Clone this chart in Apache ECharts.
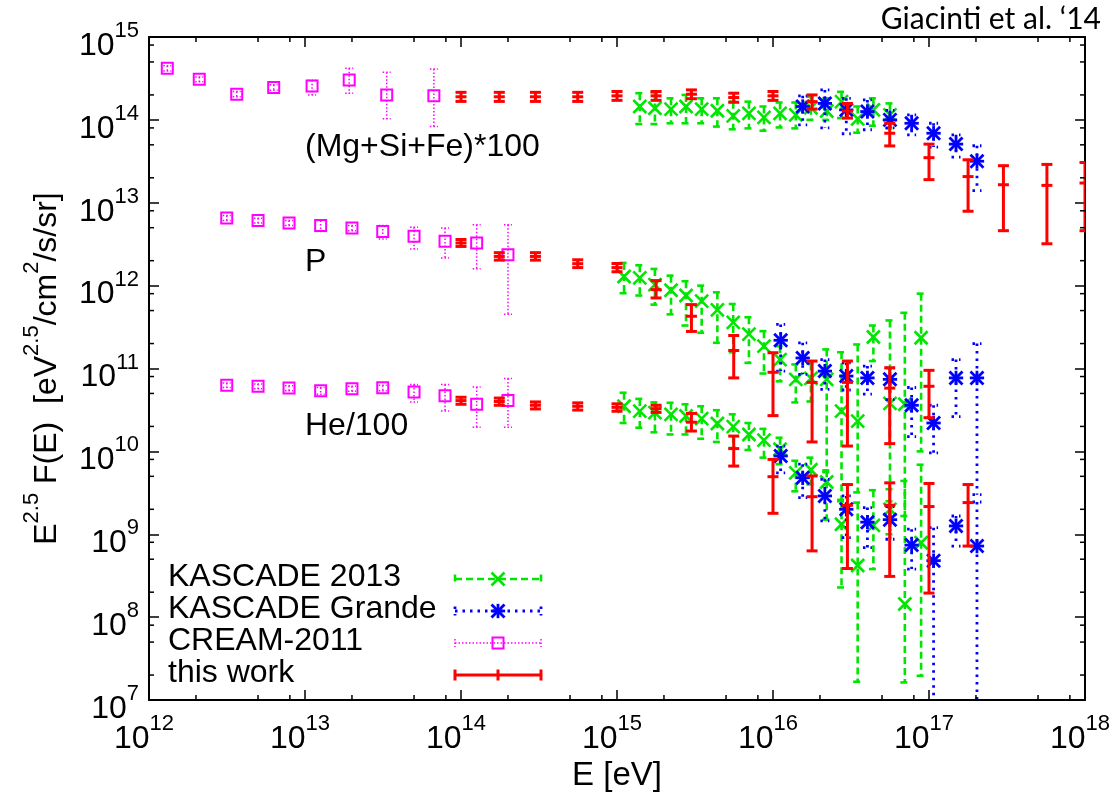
<!DOCTYPE html>
<html>
<head>
<meta charset="utf-8">
<script src="https://cdn.jsdelivr.net/npm/echarts@6.0.0/dist/echarts.min.js"></script>
<style>
html,body{margin:0;padding:0;background:#fff;}
#chart{width:1119px;height:799px;}
</style>
</head>
<body>
<div id="chart"></div>
<script>
// ---------------- DATA ----------------
// CREAM-2011
const E_CREAM_MG = [1.31e12, 2.1e12, 3.65e12, 6.3e12, 1.11e13, 1.92e13, 3.34e13, 6.7e13];
const F_CREAM_MG = [4.2e14, 3.09e14, 2.04e14, 2.45e14, 2.57e14, 3.03e14, 2.0e14, 1.95e14];
const HI_CREAM_MG = [4.5e14, 3.3e14, 2.2e14, 2.65e14, 3.0e14, 4.2e14, 3.76e14, 4.1e14];
const LO_CREAM_MG = [3.9e14, 2.88e14, 1.9e14, 2.28e14, 2.0e14, 2.1e14, 1.03e14, 8.3e13];

const E_CREAM = [3.15e12, 5.0e12, 7.9e12, 1.26e13, 2.0e13, 3.15e13, 5.0e13, 7.9e13, 1.26e14, 2.0e14];
const F_CREAM_P = [6.55e12, 6.1e12, 5.7e12, 5.3e12, 4.96e12, 4.5e12, 3.93e12, 3.42e12, 3.27e12, 2.36e12];
const HI_CREAM_P = [7.0e12, 6.5e12, 6.1e12, 6.1e12, 5.3e12, 5.3e12, 5.05e12, 4.95e12, 5.43e12, 5.43e12];
const LO_CREAM_P = [6.1e12, 5.7e12, 5.3e12, 4.5e12, 4.6e12, 3.66e12, 2.77e12, 2.16e12, 1.6e12, 4.5e11];
const F_CREAM_HE = [6.3e10, 6.1e10, 5.8e10, 5.4e10, 5.7e10, 5.85e10, 5.2e10, 4.7e10, 3.7e10, 4.1e10];
const HI_CREAM_HE = [6.7e10, 6.5e10, 6.2e10, 5.9e10, 6.1e10, 6.3e10, 6.4e10, 6.4e10, 6.0e10, 7.6e10];
const LO_CREAM_HE = [5.9e10, 5.7e10, 5.4e10, 4.9e10, 5.3e10, 5.4e10, 3.93e10, 3.06e10, 1.96e10, 1.96e10];

// this work
const E_WORK = [1.0e14, 1.76e14, 3.0e14, 5.6e14, 1.0e15, 1.78e15, 3.0e15, 5.6e15, 1.0e16, 1.78e16, 3.0e16, 5.6e16, 1.0e17, 1.78e17, 3.0e17, 5.7e17, 1.0e18];
const F_WORK_MG = [1.9e14, 1.9e14, 1.9e14, 1.9e14, 1.95e14, 1.95e14, 2.04e14, 1.86e14, 1.95e14, 1.66e14, 1.28e14, 6.9e13, 3.5e13, 2.07e13, 1.65e13, 1.62e13, 1.73e13];
const HI_WORK_MG = [2.15e14, 2.15e14, 2.15e14, 2.15e14, 2.2e14, 2.2e14, 2.3e14, 2.1e14, 2.2e14, 2.0e14, 1.58e14, 9.1e13, 5.1e13, 3.3e13, 2.8e13, 2.9e13, 3.06e13];
const LO_WORK_MG = [1.67e14, 1.67e14, 1.67e14, 1.67e14, 1.72e14, 1.72e14, 1.8e14, 1.63e14, 1.72e14, 1.35e14, 1.05e14, 4.85e13, 1.9e13, 7.9e12, 4.6e12, 3.2e12, 4.6e12];
const F_WORK_P = [3.27e12, 2.25e12, 2.25e12, 1.84e12, 1.65e12, 8.95e11, 4.27e11, 1.65e11, 9.0e10, 6.8e10, 6.8e10, 5.8e10, 6.1e10];
const HI_WORK_P = [3.6e12, 2.5e12, 2.5e12, 2.05e12, 1.85e12, 1.15e12, 5.9e11, 2.5e11, 1.55e11, 1.23e11, 1.23e11, 1.02e11, 9.5e10];
const LO_WORK_P = [2.97e12, 2.03e12, 2.03e12, 1.65e12, 1.47e12, 7.1e11, 2.8e11, 7.7e10, 2.7e10, 1.3e10, 1.16e10, 1.24e10, 2.55e10];
const F_WORK_HE = [4.1e10, 4.0e10, 3.6e10, 3.5e10, 3.4e10, 3.27e10, 2.25e10, 1.08e10, 4.95e9, 2.84e9, 2.24e9, 2.24e9, 2.16e9, 2.41e9];
const HI_WORK_HE = [4.5e10, 4.4e10, 3.95e10, 3.85e10, 3.75e10, 3.6e10, 2.87e10, 1.53e10, 8.0e9, 5.05e9, 3.98e9, 4.17e9, 4.1e9, 3.98e9];
const LO_WORK_HE = [3.7e10, 3.6e10, 3.25e10, 3.15e10, 3.05e10, 2.95e10, 1.76e10, 6.65e9, 1.79e9, 6.3e8, 3.86e8, 3.1e8, 1.95e8, 7.2e8];

// KASCADE 2013
const E_K13 = [1.11e15, 1.40e15, 1.75e15, 2.22e15, 2.77e15, 3.49e15, 4.40e15, 5.56e15, 7.01e15, 8.75e15, 1.11e16, 1.40e16, 1.75e16, 2.21e16, 2.75e16, 3.49e16, 4.40e16, 5.62e16, 7.0e16, 8.9e16];
const E_K13_MG = [1.40e15, 1.75e15, 2.22e15, 2.77e15, 3.49e15, 4.40e15, 5.56e15, 7.01e15, 8.75e15, 1.11e16, 1.40e16, 1.75e16, 2.21e16, 2.75e16, 3.49e16, 4.40e16, 5.62e16];
const F_K13_MG = [1.45e14, 1.38e14, 1.35e14, 1.45e14, 1.35e14, 1.29e14, 1.12e14, 1.2e14, 1.07e14, 1.2e14, 1.15e14, 1.4e14, 1.28e14, 1.66e14, 1.03e14, 1.32e14, 1.15e14];
const HI_K13_MG = [2.1e14, 2.14e14, 1.82e14, 2.0e14, 1.82e14, 1.82e14, 1.66e14, 1.66e14, 1.45e14, 1.62e14, 1.62e14, 1.9e14, 1.82e14, 2.18e14, 1.45e14, 1.82e14, 1.58e14];
const LO_K13_MG = [8.9e13, 8.9e13, 9.1e13, 9.1e13, 9.1e13, 8.3e13, 7.7e13, 7.9e13, 7.4e13, 8.1e13, 7.9e13, 1.0e14, 1.0e14, 1.05e14, 7.0e13, 8.5e13, 7.9e13];
const F_K13_P = [1.29e12, 1.24e12, 1.03e12, 8.8e11, 7.6e11, 6.5e11, 5.1e11, 3.6e11, 2.6e11, 1.86e11, 1.28e11, 7.4e10, 7.6e10, 7.4e10, 3.06e10, 2.32e10, 2.4e11, 3.8e10, 3.7e10, 2.35e11];
const HI_K13_P = [1.88e12, 1.76e12, 1.59e12, 1.32e12, 1.13e12, 1.0e12, 8.3e11, 6.0e11, 4.15e11, 2.82e11, 1.86e11, 1.12e11, 1.15e11, 1.7e11, 1.57e11, 1.95e11, 3.3e11, 3.8e11, 4.7e11, 8.0e11];
const LO_K13_P = [8.1e11, 7.6e11, 5.9e11, 4.5e11, 3.3e11, 2.7e11, 2.04e11, 1.57e11, 1.17e11, 8.7e10, 7.0e10, 3.9e10, 4.0e10, 5.6e9, 2.6e9, 3.2e9, 1.23e11, 2.5e9, 1.66e9, 1.0e10];
const F_K13_HE = [3.5e10, 3.06e10, 2.93e10, 2.79e10, 2.67e10, 2.48e10, 2.17e10, 1.99e10, 1.6e10, 1.37e10, 1.06e10, 5.5e9, 6.0e9, 4.27e9, 1.32e9, 4.2e8, 1.28e9, 2.0e9, 1.44e8, 7.9e8];
const HI_K13_HE = [5.1e10, 4.3e10, 3.9e10, 3.86e10, 3.7e10, 3.5e10, 3.14e10, 2.8e10, 2.2e10, 1.87e10, 1.46e10, 7.7e9, 8.4e9, 5.9e9, 2.5e9, 2.41e9, 3.4e9, 3.5e9, 4.4e9, 6.9e9];
const LO_K13_HE = [2.2e10, 1.93e10, 1.7e10, 1.6e10, 1.6e10, 1.42e10, 1.3e10, 1.1e10, 1.04e10, 8.4e9, 7.0e9, 3.3e9, 4.0e9, 1.5e9, 2.28e8, 1.66e7, 3.8e8, 1.0e9, 1.63e7, 1.96e7];

// KASCADE Grande
const E_KG = [1.12e16, 1.55e16, 2.15e16, 2.95e16, 4.03e16, 5.62e16, 7.74e16, 1.07e17, 1.49e17, 2.03e17];
const E_KG_MG = [1.55e16, 2.15e16, 2.95e16, 4.03e16, 5.62e16, 7.74e16, 1.07e17, 1.49e17, 2.03e17];
const F_KG_MG = [1.45e14, 1.58e14, 1.32e14, 1.26e14, 1.0e14, 9.1e13, 6.9e13, 5.1e13, 3.17e13];
const HI_KG_MG = [1.95e14, 2.3e14, 1.82e14, 1.74e14, 1.3e14, 1.15e14, 9.1e13, 6.6e13, 4.87e13];
const LO_KG_MG = [8.7e13, 8.0e13, 6.8e13, 7.6e13, 8.0e13, 6.6e13, 4.7e13, 3.55e13, 1.4e13];
const F_KG_P = [2.19e11, 1.34e11, 9.3e10, 8.1e10, 7.7e10, 7.4e10, 3.6e10, 2.2e10, 7.7e10, 7.7e10];
const HI_KG_P = [3.4e11, 2.04e11, 1.28e11, 1.17e11, 1.07e11, 1.02e11, 5.9e10, 3.6e10, 1.28e11, 2.0e11];
const LO_KG_P = [9.3e10, 8.5e10, 5.6e10, 5.5e10, 4.9e10, 4.2e10, 1.51e10, 9.6e9, 2.62e10, 3.0e9];
const F_KG_HE = [8.8e9, 4.8e9, 2.9e9, 2.0e9, 1.4e9, 1.5e9, 7.4e8, 4.8e8, 1.26e9, 7.2e8];
const HI_KG_HE = [1.16e10, 7.0e9, 4.6e9, 2.9e9, 2.1e9, 2.16e9, 1.15e9, 1.2e9, 1.66e9, 2.45e9];
const LO_KG_HE = [5.5e9, 2.77e9, 1.45e9, 9.1e8, 6.9e8, 8.7e8, 3.8e8, 1.0e6, 7.2e8, 1.0e6];

// axes
const X_MIN = 1e12, X_MAX = 1e18, Y_MIN = 1e7, Y_MAX = 1e15;
const MINOR_MANTISSAS = [2, 5, 8];
const X_DECADES = [12, 13, 14, 15, 16, 17];
const Y_DECADES = [7, 8, 9, 10, 11, 12, 13, 14];
const LEGEND_NAMES = ['KASCADE 2013', 'KASCADE Grande', 'CREAM-2011', 'this work'];
const GROUP_LABELS = ['(Mg+Si+Fe)*100', 'P', 'He/100'];
const TITLE = 'Giacinti et al. \u201814';

// ---------------- styles ----------------
const FONT = 'Liberation Sans, Arial, Helvetica, sans-serif';
const STYLES = {
  k13:   {color: '#00e600', lw: 2.6, dash: [7, 4], marker: 'x', ms: 6.5, cap: 4.5},
  kg:    {color: '#0000ff', lw: 2.8, dash: [2.5, 5], marker: 'star', ms: 6.5, cap: 4.5},
  cream: {color: '#ff00ff', lw: 1.5, dash: [1.5, 2], marker: 'square', ms: 5.5, cap: 4},
  work:  {color: '#ff0000', lw: 3, dash: null, marker: 'plus', ms: 5.5, cap: 5.5}
};

function markerShapes(kind, cx, cy, s, st) {
  const out = [];
  const ln = (x1, y1, x2, y2) => out.push({type: 'line', shape: {x1, y1, x2, y2},
      style: {stroke: st.color, lineWidth: st.lw, fill: null}});
  if (kind === 'x' || kind === 'star') {
    ln(cx - s, cy - s, cx + s, cy + s);
    ln(cx - s, cy + s, cx + s, cy - s);
  }
  if (kind === 'star') {
    ln(cx - s * 1.1, cy, cx + s * 1.1, cy);
    ln(cx, cy - s * 1.1, cx, cy + s * 1.1);
  }
  if (kind === 'plus') {
    ln(cx - s, cy, cx + s, cy);
  }
  if (kind === 'square') {
    out.push({type: 'rect', shape: {x: cx - s, y: cy - s, width: 2 * s, height: 2 * s},
      style: {stroke: st.color, lineWidth: 2, fill: null}});
  }
  return out;
}

function errSeries(name, E, F, LO, HI, st) {
  return {
    type: 'custom', name: name, xAxisIndex: 0, yAxisIndex: 0, clip: true,
    data: E.map((e, i) => [e, F[i], LO[i], HI[i]]),
    encode: {x: 0, y: [1, 2, 3]},
    renderItem: function (params, api) {
      const x = api.value(0);
      const pc = api.coord([x, api.value(1)]);
      const pl = api.coord([x, api.value(2)]);
      const ph = api.coord([x, api.value(3)]);
      const ls = {stroke: st.color, lineWidth: st.lw, lineDash: st.dash, fill: null};
      const children = [
        {type: 'line', shape: {x1: pc[0], y1: ph[1], x2: pc[0], y2: pl[1]}, style: ls},
        {type: 'line', shape: {x1: pc[0] - st.cap, y1: ph[1], x2: pc[0] + st.cap, y2: ph[1]}, style: ls},
        {type: 'line', shape: {x1: pc[0] - st.cap, y1: pl[1], x2: pc[0] + st.cap, y2: pl[1]}, style: ls}
      ].concat(markerShapes(st.marker, pc[0], pc[1], st.ms, st));
      return {type: 'group', children: children};
    }
  };
}

function buildMinor(decades) {
  const out = [];
  decades.forEach(d => MINOR_MANTISSAS.forEach(m => out.push(m * Math.pow(10, d))));
  return out;
}
const MINOR_X = buildMinor(X_DECADES);
const MINOR_Y = buildMinor(Y_DECADES);

function tickSeries(values, isX) {
  return {
    type: 'custom', xAxisIndex: 0, yAxisIndex: 0, silent: true, clip: false,
    data: values.map(v => isX ? [v, 1e10] : [1e15, v]),
    encode: {x: 0, y: 1},
    renderItem: function (params, api) {
      const cs = params.coordSys;
      const p = api.coord([api.value(0), api.value(1)]);
      const st = {stroke: '#000', lineWidth: 1.5};
      const L = 5;
      if (isX) {
        return {type: 'group', children: [
          {type: 'line', shape: {x1: p[0], y1: cs.y + cs.height, x2: p[0], y2: cs.y + cs.height - L}, style: st},
          {type: 'line', shape: {x1: p[0], y1: cs.y, x2: p[0], y2: cs.y + L}, style: st}
        ]};
      }
      return {type: 'group', children: [
        {type: 'line', shape: {x1: cs.x, y1: p[1], x2: cs.x + L, y2: p[1]}, style: st},
        {type: 'line', shape: {x1: cs.x + cs.width, y1: p[1], x2: cs.x + cs.width - L, y2: p[1]}, style: st}
      ]};
    }
  };
}

const powRich = {
  b: {fontSize: 32, fontFamily: FONT, color: '#000', lineHeight: 42, verticalAlign: 'bottom'},
  s: {fontSize: 22, fontFamily: FONT, color: '#000', lineHeight: 42, verticalAlign: 'top'}
};
function powFmt(v) {
  const e = Math.round(Math.log10(v));
  return '{b|10}{s|' + e + '}';
}

function axisCommon(type, min, max) {
  return {
    type: 'log', logBase: 10, min: min, max: max, splitNumber: type === 'x' ? 6 : 8,
    axisLine: {show: true, onZero: false, lineStyle: {color: '#000', width: 2}},
    axisTick: {show: true, inside: true, length: 10, lineStyle: {color: '#000', width: 1.5}},
    minorTick: {show: false}, splitLine: {show: false}
  };
}

const xMain = Object.assign(axisCommon('x', X_MIN, X_MAX), {
  position: 'bottom',
  name: 'E [eV]', nameLocation: 'middle', nameGap: 56,
  nameTextStyle: {fontSize: 33, fontFamily: FONT, color: '#000'},
  axisLabel: {show: true, margin: 13, formatter: powFmt, rich: powRich, padding: [0, 10, 0, 0]}
});
const xTop = Object.assign(axisCommon('x', X_MIN, X_MAX), {position: 'top', axisLabel: {show: false}});
const yMain = Object.assign(axisCommon('y', Y_MIN, Y_MAX), {
  position: 'left',
  name: '{t|E}{s|2.5}{t| F(E)  [eV}{s|2.5}{t|/cm}{s|2}{t|/s/sr]}',
  nameLocation: 'middle', nameGap: 86, nameRotate: 90,
  nameTextStyle: {rich: {
    t: {fontSize: 32, fontFamily: FONT, color: '#000', lineHeight: 42, verticalAlign: 'bottom'},
    s: {fontSize: 22, fontFamily: FONT, color: '#000', lineHeight: 42, verticalAlign: 'top'}
  }},
  axisLabel: {show: true, margin: 10, formatter: powFmt, rich: powRich, padding: [8, 0, 0, 0]}
});
const yRight = Object.assign(axisCommon('y', Y_MIN, Y_MAX), {position: 'right', axisLabel: {show: false}});

const series = [
  errSeries(LEGEND_NAMES[0], E_K13_MG, F_K13_MG, LO_K13_MG, HI_K13_MG, STYLES.k13),
  errSeries(LEGEND_NAMES[0], E_K13, F_K13_P, LO_K13_P, HI_K13_P, STYLES.k13),
  errSeries(LEGEND_NAMES[0], E_K13, F_K13_HE, LO_K13_HE, HI_K13_HE, STYLES.k13),
  errSeries(LEGEND_NAMES[1], E_KG_MG, F_KG_MG, LO_KG_MG, HI_KG_MG, STYLES.kg),
  errSeries(LEGEND_NAMES[1], E_KG, F_KG_P, LO_KG_P, HI_KG_P, STYLES.kg),
  errSeries(LEGEND_NAMES[1], E_KG, F_KG_HE, LO_KG_HE, HI_KG_HE, STYLES.kg),
  errSeries(LEGEND_NAMES[2], E_CREAM_MG, F_CREAM_MG, LO_CREAM_MG, HI_CREAM_MG, STYLES.cream),
  errSeries(LEGEND_NAMES[2], E_CREAM, F_CREAM_P, LO_CREAM_P, HI_CREAM_P, STYLES.cream),
  errSeries(LEGEND_NAMES[2], E_CREAM, F_CREAM_HE, LO_CREAM_HE, HI_CREAM_HE, STYLES.cream),
  errSeries(LEGEND_NAMES[3], E_WORK, F_WORK_MG, LO_WORK_MG, HI_WORK_MG, STYLES.work),
  errSeries(LEGEND_NAMES[3], E_WORK.slice(0, F_WORK_P.length), F_WORK_P, LO_WORK_P, HI_WORK_P, STYLES.work),
  errSeries(LEGEND_NAMES[3], E_WORK.slice(0, F_WORK_HE.length), F_WORK_HE, LO_WORK_HE, HI_WORK_HE, STYLES.work),
  tickSeries(MINOR_X, true),
  tickSeries(MINOR_Y, false)
];

// ---------------- legend & labels (graphic) ----------------
function legendSample(st, y) {
  const x1 = 455, x2 = 541, cx = 498;
  const ls = {stroke: st.color, lineWidth: st.lw, lineDash: st.dash, fill: null};
  const els = [
    {type: 'line', shape: {x1: x1, y1: y, x2: x2, y2: y}, style: ls},
    {type: 'line', shape: {x1: x1, y1: y - st.cap, x2: x1, y2: y + st.cap}, style: ls},
    {type: 'line', shape: {x1: x2, y1: y - st.cap, x2: x2, y2: y + st.cap}, style: ls}
  ];
  let mk = markerShapes(st.marker, cx, y, st.ms, st);
  if (st.marker === 'plus') {
    mk = [{type: 'line', shape: {x1: cx, y1: y - st.ms, x2: cx, y2: y + st.ms},
      style: {stroke: st.color, lineWidth: st.lw}}];
  }
  return els.concat(mk);
}
const legendStyles = [STYLES.k13, STYLES.kg, STYLES.cream, STYLES.work];
const legendRows = [579, 611, 643, 675];
const graphics = [];
LEGEND_NAMES.forEach((n, i) => {
  graphics.push({type: 'text', left: 168, top: legendRows[i] - 18,
    style: {text: n, font: '32px ' + FONT, fill: '#000'}});
  legendSample(legendStyles[i], legendRows[i]).forEach(el => graphics.push(el));
});
const groupLabelPos = [[305, 131], [305, 246], [305, 410]];
GROUP_LABELS.forEach((t, i) => graphics.push({type: 'text', left: groupLabelPos[i][0], top: groupLabelPos[i][1],
  style: {text: t, font: '32px ' + FONT, fill: '#000'}}));
graphics.push({type: 'text', right: 18, top: 4,
  style: {text: TITLE, font: '30px Lato, "Open Sans", sans-serif', fill: '#000'}});

const chart = echarts.init(document.getElementById('chart'), null, {renderer: 'canvas'});
chart.setOption({
  animation: false,
  backgroundColor: '#fff',
  grid: {left: 149, right: 34, top: 37, bottom: 99, containLabel: false},
  xAxis: [xMain, xTop],
  yAxis: [yMain, yRight],
  series: series,
  graphic: graphics
});
</script>
</body>
</html>
